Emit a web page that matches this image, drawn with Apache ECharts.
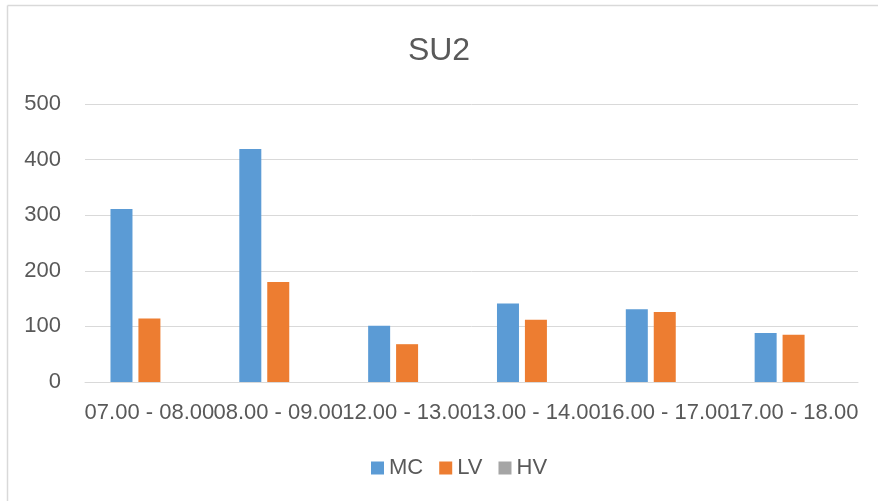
<!DOCTYPE html>
<html>
<head>
<meta charset="utf-8">
<script src="https://cdn.jsdelivr.net/npm/echarts@6/dist/echarts.min.js"></script>
<style>
html,body{margin:0;padding:0;background:#fff;}
#chart{width:878px;height:501px;}
</style>
</head>
<body>
<div id="chart"></div>
<script>
const categories = ['07.00 - 08.00','08.00 - 09.00','12.00 - 13.00','13.00 - 14.00','16.00 - 17.00','17.00 - 18.00'];
const mc = [311, 419, 101, 141, 131, 88];
const lv = [114, 180, 68, 112, 126, 85];
const hv = [0, 0, 0, 0, 0, 0];
const yTicks = [0, 100, 200, 300, 400, 500];

const font = 'Liberation Sans';
const textColor = '#595959';
const chart = echarts.init(document.getElementById('chart'));
chart.setOption({
  animation: false,
  backgroundColor: '#ffffff',
  graphic: [
    {type: 'line', silent: true, shape: {x1: 7.5, y1: 5.5, x2: 878, y2: 5.5}, style: {stroke: '#d9d9d9', lineWidth: 1.5}},
    {type: 'line', silent: true, shape: {x1: 7.5, y1: 5.5, x2: 7.5, y2: 501}, style: {stroke: '#d9d9d9', lineWidth: 1.5}}
  ],
  title: {
    text: 'SU2', left: 'center', top: 30,
    textStyle: {fontFamily: font, fontSize: 32, fontWeight: 'normal', color: textColor}
  },
  legend: {
    top: 452, left: 366,
    itemWidth: 13, itemHeight: 13, itemGap: 16,
    icon: 'rect',
    textStyle: {fontFamily: font, fontSize: 22, color: textColor},
    data: ['MC','LV','HV']
  },
  grid: {left: 85, right: 20, top: 104, bottom: 119, containLabel: false},
  xAxis: {
    type: 'category', data: categories,
    axisLine: {lineStyle: {color: '#d9d9d9', width: 1}},
    axisTick: {show: false},
    axisLabel: {fontFamily: font, fontSize: 22, color: textColor, margin: 20, interval: 0}
  },
  yAxis: {
    type: 'value', min: yTicks[0], max: yTicks[yTicks.length-1], interval: 100,
    axisLine: {show: false}, axisTick: {show: false},
    axisLabel: {fontFamily: font, fontSize: 22, color: textColor, margin: 24},
    splitLine: {lineStyle: {color: '#d9d9d9', width: 1}}
  },
  series: [
    {name: 'MC', type: 'bar', data: mc, itemStyle: {color: '#5b9bd5'}, barWidth: 22, barGap: '27%', barCategoryGap: '39%'},
    {name: 'LV', type: 'bar', data: lv, itemStyle: {color: '#ed7d31'}, barWidth: 22, barGap: '27%'},
    {name: 'HV', type: 'bar', data: hv, itemStyle: {color: '#a5a5a5'}, barWidth: 22, barGap: '27%'}
  ]
});
</script>
</body>
</html>
